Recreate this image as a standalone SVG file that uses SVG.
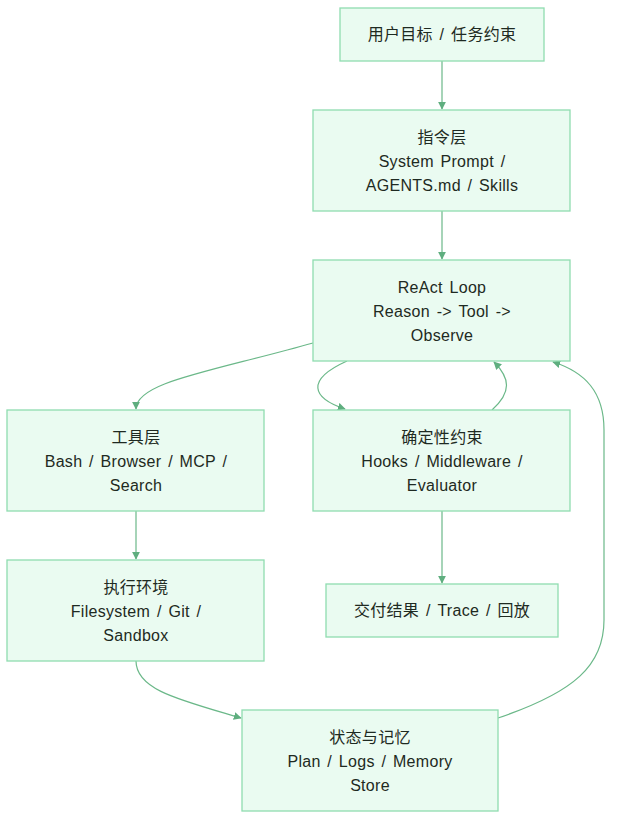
<svg xmlns="http://www.w3.org/2000/svg" width="621" height="830" viewBox="0 0 621 830">
<style>
.node rect{fill:#eafbf1;stroke:#8fdcb0;stroke-width:1.3}
.node text{font-family:"Liberation Sans","Noto Sans CJK SC",sans-serif;font-size:16px;letter-spacing:0.3px;word-spacing:2px;fill:#1e2a22;text-anchor:middle}
.edges path{fill:none;stroke:#6bb889;stroke-width:1.2}
</style>
<defs>
<marker id="arr" viewBox="0 0 10 10" refX="9" refY="5" markerWidth="8" markerHeight="8" markerUnits="userSpaceOnUse" orient="auto">
<path d="M0,0 L10,5 L0,10 z" fill="#5fae7f"/>
</marker>
</defs>
<rect width="621" height="830" fill="#ffffff"/>
<g class="edges">
<path d="M442,61 L442,109" marker-end="url(#arr)"/>
<path d="M442,211 L442,259" marker-end="url(#arr)"/>
<path d="M313,343 C210,372 136,382 136,409" marker-end="url(#arr)"/>
<path d="M347,361 C305,380 312,398 345,409" marker-end="url(#arr)"/>
<path d="M492,410 C512,392 510,378 494,362" marker-end="url(#arr)"/>
<path d="M498,718 C575,692 604,665 604,620 L604,430 C604,392 585,372 553,362" marker-end="url(#arr)"/>
<path d="M136,511 L136,559" marker-end="url(#arr)"/>
<path d="M136,661 C136,690 180,700 241,718" marker-end="url(#arr)"/>
<path d="M442,511 L442,583" marker-end="url(#arr)"/>
</g>
<g id="n1" class="node"><rect x="340" y="8" width="204" height="53"/><text x="442" y="40">用户目标 / 任务约束</text></g>
<g id="n2" class="node"><rect x="313" y="110" width="257" height="101"/><text x="442" y="143">指令层</text><text x="442" y="167">System Prompt /</text><text x="442" y="191">AGENTS.md / Skills</text></g>
<g id="n3" class="node"><rect x="313" y="260" width="257" height="101"/><text x="442" y="293">ReAct Loop</text><text x="442" y="317">Reason -&gt; Tool -&gt;</text><text x="442" y="341">Observe</text></g>
<g id="n4" class="node"><rect x="7" y="410" width="257" height="101"/><text x="136" y="443">工具层</text><text x="136" y="467">Bash / Browser / MCP /</text><text x="136" y="491">Search</text></g>
<g id="n5" class="node"><rect x="313" y="410" width="257" height="101"/><text x="442" y="443">确定性约束</text><text x="442" y="467">Hooks / Middleware /</text><text x="442" y="491">Evaluator</text></g>
<g id="n6" class="node"><rect x="7" y="560" width="257" height="101"/><text x="136" y="593">执行环境</text><text x="136" y="617">Filesystem / Git /</text><text x="136" y="641">Sandbox</text></g>
<g id="n7" class="node"><rect x="326" y="584" width="232" height="53"/><text x="442" y="616">交付结果 / Trace / 回放</text></g>
<g id="n8" class="node"><rect x="242" y="710" width="256" height="101"/><text x="370" y="743">状态与记忆</text><text x="370" y="767">Plan / Logs / Memory</text><text x="370" y="791">Store</text></g>
</svg>
